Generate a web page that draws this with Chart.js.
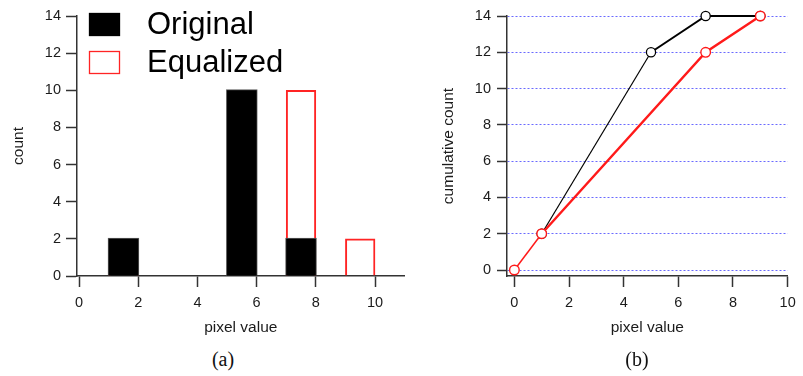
<!DOCTYPE html>
<html>
<head>
<meta charset="utf-8">
<script src="https://cdn.jsdelivr.net/npm/chart.js@4"></script>
<style>
  html, body { margin: 0; padding: 0; background: #fff; }
  #page { position: relative; width: 803px; height: 376px; overflow: hidden; }
  .panel { position: absolute; top: 0; height: 345px; }
  #left { left: 0; width: 410px; }
  #right { left: 400px; width: 403px; }
  .caption { position: absolute; top: 348px; line-height: 23px; font: 20px 'Liberation Serif', serif; color: #111; transform: translateX(-50%); }
</style>
</head>
<body>
<div id="page">
  <div class="panel" id="left"><canvas id="histChart"></canvas></div>
  <div class="panel" id="right"><canvas id="cdfChart"></canvas></div>
  <div class="caption" style="left:223px">(a)</div>
  <div class="caption" style="left:637px">(b)</div>
</div>
<script>
// histogram bins (left edge of each unit-wide bin)
const binStarts = [0, 1, 2, 3, 4, 5, 6, 7, 8, 9];
const originalCounts = [0, 2, 0, 0, 0, 10, 0, 2, 0, 0];
const equalizedCounts = [0, 2, 0, 0, 0, 0, 0, 10, 0, 2];

// cumulative curves
const origLevels = [1, 5, 7, 9];
const origCumulative = [2, 12, 14, 14];
const eqLevels = [0, 1, 7, 9];
const eqCumulative = [0, 2, 12, 14];

const xTicks = [0, 2, 4, 6, 8, 10];
const yTicks = [0, 2, 4, 6, 8, 10, 12, 14];

const sans = "'Liberation Sans', Arial, sans-serif";
const tickFont = { family: sans, size: 14.5 };
const titleFont = { family: sans, size: 15.5 };
const inkColor = '#1b1b1b';
const axisColor = '#333';

function toBars(counts) {
  return binStarts.map((b, i) => ({ x: b + 0.5, y: counts[i] > 0 ? counts[i] : null }));
}

function toPoints(xs, ys) {
  return xs.map((x, i) => ({ x: x, y: ys[i] }));
}

// force the tick list (axes run a little past the labelled range)
function fixedTicks(values) {
  return scale => { scale.ticks = values.map(v => ({ value: v })); };
}

// big legend drawn inside the plot area
const boxLegend = {
  id: 'boxLegend',
  afterDraw(chart, args, opts) {
    const ctx = chart.ctx;
    ctx.save();
    ctx.font = opts.font;
    ctx.textBaseline = 'alphabetic';
    ctx.textAlign = 'left';
    chart.data.datasets.forEach((ds, i) => {
      const top = opts.top + i * opts.rowGap;
      ctx.fillStyle = ds.backgroundColor;
      ctx.fillRect(opts.left, top, opts.boxWidth, opts.boxHeight);
      ctx.lineWidth = 1.3;
      ctx.strokeStyle = ds.legendStroke;
      ctx.strokeRect(opts.left + 0.5, top + 0.5, opts.boxWidth - 1, opts.boxHeight - 1);
      ctx.fillStyle = '#000';
      ctx.fillText(ds.label, opts.textX, top + opts.baseline);
    });
    ctx.restore();
  }
};

function axisBase(extra) {
  return Object.assign({
    grid: { drawOnChartArea: false, tickLength: 11, tickColor: axisColor, tickWidth: 1.5 },
    border: { color: axisColor, width: 1.5 }
  }, extra);
}

new Chart(document.getElementById('histChart'), {
  type: 'bar',
  data: {
    datasets: [
      {
        label: 'Original',
        data: toBars(originalCounts),
        backgroundColor: '#000',
        borderColor: '#5a5a5a',
        legendStroke: '#000',
        borderWidth: 1,
        borderSkipped: 'start',
        inflateAmount: 1,
        grouped: false,
        barPercentage: 1,
        categoryPercentage: 1,
        order: 1 // lower order is painted last, so black sits over the red outlines
      },
      {
        label: 'Equalized',
        data: toBars(equalizedCounts),
        backgroundColor: 'rgba(255,255,255,0)',
        borderColor: '#ff2424',
        legendStroke: '#ff2424',
        borderWidth: 1.3,
        borderSkipped: 'start',
        grouped: false,
        barPercentage: 1,
        categoryPercentage: 1,
        order: 2
      }
    ]
  },
  options: {
    responsive: true,
    maintainAspectRatio: false,
    animation: false,
    events: [],
    layout: { padding: { top: 16, right: 5.4, left: 0, bottom: 0 } },
    plugins: {
      legend: { display: false },
      tooltip: { enabled: false },
      boxLegend: {
        font: "31px 'Liberation Sans', Arial, sans-serif",
        left: 89, top: 13, rowGap: 38, boxWidth: 31, boxHeight: 23, textX: 147, baseline: 21
      }
    },
    scales: {
      x: axisBase({
        type: 'linear',
        min: -0.07,
        max: 11,
        offset: false,
        afterBuildTicks: fixedTicks(xTicks),
        afterFit: s => { s.height = 69; },
        grid: { offset: false, drawOnChartArea: false, tickLength: 11, tickColor: axisColor, tickWidth: 1.5 },
        ticks: { font: tickFont, color: inkColor, padding: 7.3, maxRotation: 0, autoSkip: false },
        title: { display: true, text: 'pixel value', font: titleFont, color: inkColor, padding: { top: 0, bottom: 7.7 } }
      }),
      y: axisBase({
        min: 0,
        max: 14,
        afterBuildTicks: fixedTicks(yTicks),
        afterFit: s => { s.width = 77; },
        ticks: { font: tickFont, color: inkColor, padding: 5, autoSkip: false },
        title: { display: true, text: 'count', font: titleFont, color: inkColor, padding: { top: 9.2, bottom: 0 } }
      })
    }
  },
  plugins: [boxLegend]
});

new Chart(document.getElementById('cdfChart'), {
  type: 'scatter',
  data: {
    datasets: [
      {
        label: 'Original',
        data: toPoints(origLevels, origCumulative),
        showLine: true,
        borderColor: '#000',
        borderWidth: 2,
        segment: { borderWidth: c => c.p0DataIndex === 0 ? 1.2 : 2 },
        pointRadius: 4.6,
        pointBorderWidth: 1.3,
        pointBackgroundColor: '#fff',
        pointBorderColor: '#000',
        clip: false,
        order: 2
      },
      {
        label: 'Equalized',
        data: toPoints(eqLevels, eqCumulative),
        showLine: true,
        borderColor: '#ff1a1a',
        borderWidth: 2.4,
        segment: { borderWidth: c => c.p0DataIndex === 0 ? 1.5 : 2.4 },
        pointRadius: 4.8,
        pointBorderWidth: 1.4,
        pointBackgroundColor: '#fff',
        pointBorderColor: '#ff1a1a',
        clip: false,
        order: 1
      }
    ]
  },
  options: {
    responsive: true,
    maintainAspectRatio: false,
    animation: false,
    events: [],
    layout: { padding: { top: 16, right: 7.3, left: 0, bottom: 0 } },
    plugins: { legend: { display: false }, tooltip: { enabled: false } },
    scales: {
      x: axisBase({
        type: 'linear',
        min: -0.27,
        max: 10,
        afterBuildTicks: fixedTicks(xTicks),
        afterFit: s => { s.height = 69; },
        ticks: { font: tickFont, color: inkColor, padding: 7.3, maxRotation: 0, autoSkip: false },
        title: { display: true, text: 'pixel value', font: titleFont, color: inkColor, padding: { top: 0, bottom: 7.7 } }
      }),
      y: {
        type: 'linear',
        min: -0.33,
        max: 14,
        afterBuildTicks: fixedTicks(yTicks),
        afterFit: s => { s.width = 107; },
        grid: { drawOnChartArea: true, color: 'rgba(90,90,255,0.9)', lineWidth: 1, tickLength: 10, tickColor: axisColor, tickWidth: 1.5 },
        border: { color: axisColor, width: 1.5, dash: [2, 2] },
        ticks: { font: tickFont, color: inkColor, padding: 6, autoSkip: false },
        title: { display: true, text: 'cumulative count', font: titleFont, color: inkColor, padding: { top: 39, bottom: 0 } }
      }
    }
  }
});
</script>
</body>
</html>
